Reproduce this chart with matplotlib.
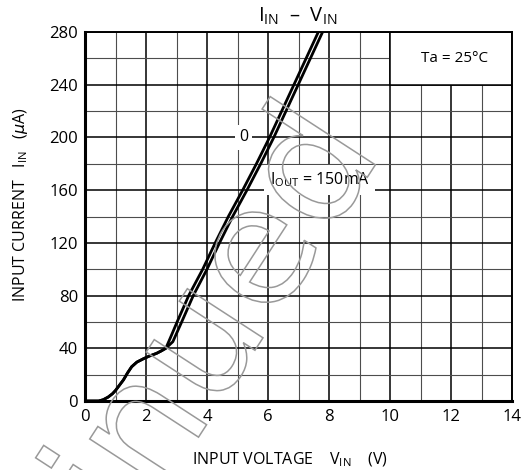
import numpy as np
import matplotlib
matplotlib.use('Agg')
import matplotlib.pyplot as plt
from matplotlib.patches import Rectangle, PathPatch
from matplotlib.textpath import TextPath
from matplotlib.font_manager import FontProperties
from matplotlib import transforms

plt.rcParams['font.family'] = ['Open Sans', 'DejaVu Sans']
plt.rcParams['mathtext.fontset'] = 'custom'
plt.rcParams['mathtext.rm'] = 'Open Sans'
plt.rcParams['mathtext.it'] = 'DejaVu Sans:italic'

# 共同部分 (0 ~ 40uA)
v_common = [0, 0.45, 0.6, 0.76, 0.9, 1.0, 1.13, 1.26, 1.4, 1.53, 1.7, 1.91, 2.1, 2.35, 2.5, 2.65]
i_common = [0, 0, 1, 3, 5.5, 8, 12, 16, 21.5, 26, 29.5, 32, 34, 36.2, 38, 40]

# IOUT = 0
v_out0 = [2.65, 2.80, 3.02, 3.40, 3.86, 4.27, 4.70, 5.17, 5.62, 6.05, 6.45, 6.85, 7.25, 7.65, 7.78]
i_out0 = [40, 48, 60, 80, 100, 120, 140, 160, 180, 200, 220, 240, 260, 280, 286]

# IOUT = 150mA
v_out150 = [2.65, 2.88, 3.17, 3.55, 4.00, 4.41, 4.84, 5.31, 5.76, 6.19, 6.59, 6.99, 7.39, 7.79, 7.92]
i_out150 = [40, 45, 60, 80, 100, 120, 140, 160, 180, 200, 220, 240, 260, 280, 286]

x_major = [0, 2, 4, 6, 8, 10, 12, 14]
y_major = [0, 40, 80, 120, 160, 200, 240, 280]

fig = plt.figure(figsize=(5.27, 4.70), dpi=100)
ax = fig.add_axes([85 / 527, 69 / 470, 427 / 527, 369 / 470])

ax.set_xlim(0, 14)
ax.set_ylim(0, 280)
ax.set_xticks(x_major)
ax.set_yticks(y_major)
ax.set_xticks(np.arange(0, 15, 1), minor=True)
ax.set_yticks(np.arange(0, 281, 20), minor=True)
ax.grid(which='major', color='black', linewidth=1.1)
ax.grid(which='minor', color='0.3', linewidth=0.8)
ax.tick_params(which='both', length=0, labelsize=12, colors='black')
ax.tick_params(axis='x', pad=6)
ax.tick_params(axis='y', pad=5)

for s in ['left', 'bottom']:
    ax.spines[s].set_linewidth(2.2)
for s in ['top', 'right']:
    ax.spines[s].set_linewidth(1.4)

# 曲线
ax.plot(v_common + v_out0[1:], i_common + i_out0[1:], color='black', lw=2.0, zorder=4,
        solid_joinstyle='round')
ax.plot(v_common + v_out150[1:], i_common + i_out150[1:], color='black', lw=2.0, zorder=4,
        solid_joinstyle='round')

# Ta 框
ax.add_patch(Rectangle((10, 240), 4, 40, facecolor='white', edgecolor='black', lw=1.1, zorder=2))
ax.text(12.1, 260, 'Ta = 25°C', ha='center', va='center', fontsize=11, zorder=3)

# 曲线标注
ax.text(5.2, 200, '0', ha='center', va='center', fontsize=11.5, zorder=3,
        bbox=dict(facecolor='white', edgecolor='none', pad=3))
ax.text(7.7, 168, r'$\mathregular{I_{OUT}}$ = 150mA', ha='center', va='center', fontsize=11.5,
        zorder=3, bbox=dict(facecolor='white', edgecolor='none', pad=4))

fig.text(298 / 527, 1 - 16 / 470, r'$\mathregular{I_{IN}}$  –  $\mathregular{V_{IN}}$',
         ha='center', va='center', fontsize=14.5)
ax.set_xlabel(r'INPUT VOLTAGE    $\mathregular{V_{IN}}$    (V)', fontsize=11.5)
ax.xaxis.set_label_coords(0.479, -0.135)
fig.text(21 / 527, 1 - 205 / 470, r'INPUT CURRENT   $\mathregular{I_{IN}}$   ($\mu$A)',
         rotation=90, ha='center', va='center', fontsize=11.5)

# 水印 (灰色空心字)
size = 165
prop = FontProperties(family='DejaVu Sans')
prefix = TextPath((0, 0), 'Discontinue', size=size, prop=prop)
wm = TextPath((0, 0), 'Discontinued', size=size, prop=prop)
anchor_x = prefix.get_extents().x1 + 0.56 * size
tr = transforms.Affine2D().translate(-anchor_x, 0).rotate_deg(57).translate(372, 300)
fig.add_artist(PathPatch(wm, transform=tr, facecolor='none', edgecolor='0.6', lw=1.1, zorder=10))

plt.savefig('out.png', dpi=100)
